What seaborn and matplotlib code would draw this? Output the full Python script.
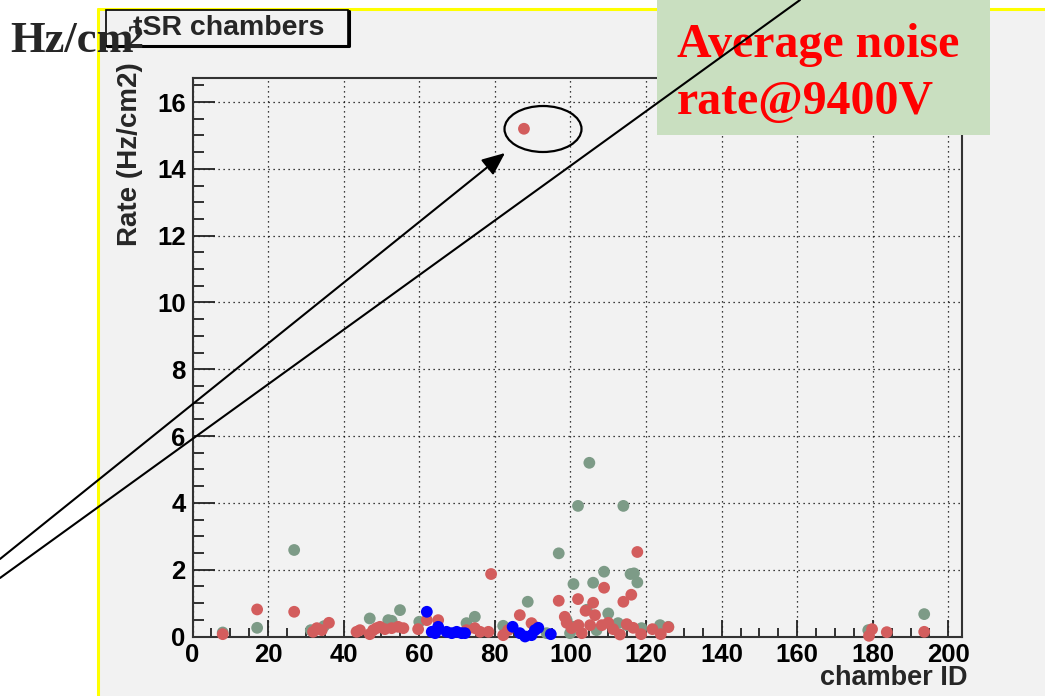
import numpy as np
import pandas as pd
import matplotlib
matplotlib.use("Agg")
import matplotlib.pyplot as plt
import seaborn as sns
from matplotlib.patches import Rectangle, Ellipse, FancyArrowPatch
from matplotlib.lines import Line2D
from matplotlib.ticker import MultipleLocator

# --- data (chamber ID, rate in Hz/cm2) ---
green_id = [8.0, 17.1, 26.9, 31.3, 34.8, 46.9, 51.8, 52.7, 54.9, 60.0,
            72.5, 74.7, 82.2, 88.7, 93.7, 96.9, 99.0, 99.9, 100.7, 100.8,
            102.0, 104.3, 105.0, 106.0, 106.9, 108.9, 110.0, 112.6, 114.0, 114.9,
            115.9, 116.8, 117.7, 118.8, 123.7, 125.9, 178.8, 193.6]
green_rate = [0.12, 0.26, 2.59, 0.19, 0.31, 0.54, 0.49, 0.47, 0.79, 0.44,
              0.40, 0.59, 0.32, 1.04, 0.10, 2.49, 0.49, 0.10, 0.29, 1.57,
              3.91, 0.80, 5.20, 1.61, 0.19, 1.94, 0.69, 0.40, 3.91, 0.34,
              1.87, 1.89, 1.62, 0.25, 0.34, 0.29, 0.19, 0.67]

red_id = [8.0, 17.1, 26.9, 31.9, 32.9, 34.2, 36.1, 43.4, 44.3, 46.9,
          47.8, 48.7, 49.6, 50.9, 52.7, 54.4, 55.8, 59.7, 62.0, 65.0,
          72.5, 74.7, 76.1, 78.3, 79.0, 82.2, 83.5, 86.6, 89.7, 90.6,
          87.7, 96.9, 98.5, 99.0, 100.3, 102.0, 102.1, 103.0, 104.0, 105.2,
          106.0, 106.5, 108.3, 108.9, 110.0, 111.3, 113.1, 114.0, 114.9, 116.1,
          116.6, 117.7, 118.7, 121.7, 123.9, 125.9, 179.0, 179.8, 183.7, 193.6]
red_rate = [0.07, 0.81, 0.74, 0.14, 0.25, 0.19, 0.41, 0.14, 0.19, 0.07,
            0.19, 0.25, 0.29, 0.22, 0.25, 0.29, 0.25, 0.22, 0.49, 0.49,
            0.19, 0.25, 0.14, 0.14, 1.87, 0.04, 0.19, 0.64, 0.40, 0.29,
            15.2, 1.07, 0.59, 0.41, 0.25, 1.12, 0.34, 0.10, 0.77, 0.34,
            1.01, 0.64, 0.34, 1.46, 0.41, 0.22, 0.06, 1.04, 0.37, 1.25,
            0.26, 2.53, 0.07, 0.22, 0.07, 0.28, 0.02, 0.22, 0.13, 0.14]

blue_id = [62.0, 63.3, 64.2, 65.0, 67.2, 68.6, 69.9, 71.2, 72.1,
           84.7, 86.6, 88.0, 89.7, 90.6, 91.5, 94.8]
blue_rate = [0.74, 0.14, 0.10, 0.29, 0.14, 0.10, 0.14, 0.10, 0.10,
             0.29, 0.10, 0.00, 0.04, 0.19, 0.26, 0.07]

xticks = list(range(0, 201, 20))
yticks = list(range(0, 17, 2))

df = pd.concat([
    pd.DataFrame({"chamber": green_id, "rate": green_rate, "group": "green"}),
    pd.DataFrame({"chamber": red_id, "rate": red_rate, "group": "red"}),
    pd.DataFrame({"chamber": blue_id, "rate": blue_rate, "group": "blue"}),
], ignore_index=True)
palette = {"green": "#7d9b87", "red": "#d35d5d", "blue": "#0000ff"}

W, H = 1045, 696
def fx(px):
    return px / W
def fy(py):
    return 1 - py / H

sns.set_style("ticks")
plt.rcParams['font.family'] = ['Liberation Sans', 'DejaVu Sans']

fig = plt.figure(figsize=(W / 100, H / 100), dpi=100)
fig.patch.set_facecolor("white")

# canvas panel with yellow border (top / left)
fig.add_artist(Rectangle((fx(98), 0), 1 - fx(98), fy(9), transform=fig.transFigure,
                         facecolor="#f2f2f2", edgecolor="none", zorder=-2))
fig.add_artist(Line2D([fx(98), fx(98)], [0, fy(9)], color="#ffff00", lw=2.2, zorder=-1))
fig.add_artist(Line2D([fx(98), 1], [fy(9), fy(9)], color="#ffff00", lw=2.2, zorder=-1))

ax = fig.add_axes([fx(192.5), 1 - 636.5 / H, (962 - 192.5) / W, (636.5 - 78) / H])
ax.set_facecolor("#f2f2f2")

sns.scatterplot(data=df, x="chamber", y="rate", hue="group", palette=palette,
                hue_order=["green", "red", "blue"], s=72, linewidth=0,
                legend=False, ax=ax, clip_on=False, zorder=3)

ax.set_xlim(0, 203.6)
ax.set_ylim(0, 16.72)
ax.set_xticks(xticks)
ax.set_yticks(yticks)
ax.xaxis.set_minor_locator(MultipleLocator(5))
ax.yaxis.set_minor_locator(MultipleLocator(0.5))
ax.grid(True, which="major", color="black", linestyle=(0, (1, 3)), lw=0.9)
ax.set_xlabel("")
ax.set_ylabel("")

ax.tick_params(axis="x", which="major", direction="in", length=12, width=1.3, pad=5)
ax.tick_params(axis="x", which="minor", direction="in", length=6.5, width=1.3)
ax.tick_params(axis="y", which="major", direction="in", length=16, width=1.3, pad=5)
ax.tick_params(axis="y", which="minor", direction="in", length=8, width=1.3)
ax.tick_params(which="both", top=False, right=False, labelsize=18.5, colors="#222222")
for lbl in ax.get_xticklabels() + ax.get_yticklabels():
    lbl.set_fontweight("bold")
    lbl.set_color("black")
for sp in ax.spines.values():
    sp.set_visible(True)
    sp.set_color("#333333")
    sp.set_linewidth(1.5)

# axis titles (ROOT style)
fig.text(fx(967), fy(678), "chamber ID", ha="right", va="center",
         fontsize=19.5, weight="bold")
fig.text(fx(130), fy(62), "Rate (Hz/cm2)", ha="center", va="top", rotation=90,
         fontsize=20, weight="bold")

# title box
fig.add_artist(Rectangle((fx(106), fy(46)), fx(348) - fx(106), fy(10) - fy(46),
                         transform=fig.transFigure, facecolor="#f2f2f2",
                         edgecolor="black", lw=1.2, zorder=5))
fig.add_artist(Line2D([fx(107), fx(349), fx(349)], [fy(46), fy(46), fy(11)],
                      color="black", lw=2.2, zorder=5))
fig.text(fx(229), fy(28), "tSR chambers", ha="center", va="center",
         fontsize=20.5, weight="bold", zorder=6)

# "Hz/cm2" label on the slide
serif = ['Liberation Serif', 'DejaVu Serif']
fig.text(fx(10), fy(52), "Hz/cm", ha="left", va="baseline", fontsize=32,
         weight="bold", family=serif, zorder=7)
fig.text(fx(127), fy(48), "2", ha="left", va="baseline", fontsize=24,
         weight="bold", family=serif, zorder=7)

# green note box
fig.add_artist(Rectangle((fx(657), fy(135)), fx(990) - fx(657), fy(0) - fy(135),
                         transform=fig.transFigure, facecolor="#c9dfc0",
                         edgecolor="none", zorder=5))
fig.text(fx(677), fy(57), "Average noise", ha="left", va="baseline", fontsize=34.5,
         weight="bold", family=serif, color="#ff0000", zorder=6)
fig.text(fx(677), fy(114), "rate@9400V", ha="left", va="baseline", fontsize=34.5,
         weight="bold", family=serif, color="#ff0000", zorder=6)

# ellipse around the outlier, arrow and second line
fig.add_artist(Ellipse((fx(543), fy(129)), 77 / W, 46 / H, transform=fig.transFigure,
                       fill=False, edgecolor="black", lw=1.6, zorder=8))
fig.add_artist(FancyArrowPatch((fx(0), fy(559)), (fx(505), fy(153)),
                               transform=fig.transFigure,
                               arrowstyle="-|>,head_length=0.7,head_width=0.3",
                               mutation_scale=20, color="black", lw=1.5,
                               shrinkA=0, shrinkB=0, zorder=8))
fig.add_artist(Line2D([fx(0), fx(800)], [fy(578), fy(0)], color="black", lw=1.5, zorder=8))

fig.savefig("out.png", dpi=100)
